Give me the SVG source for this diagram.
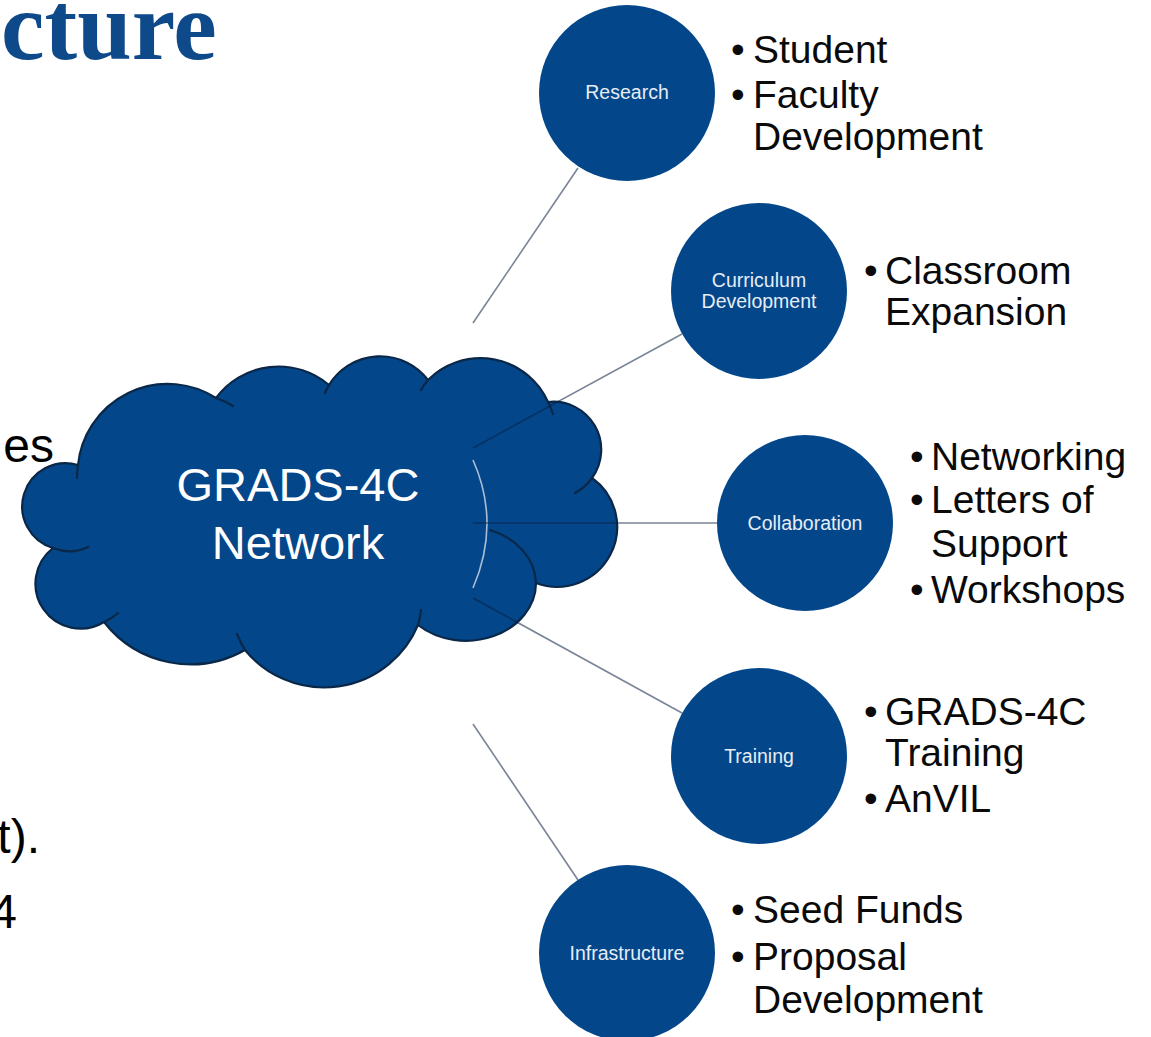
<svg xmlns="http://www.w3.org/2000/svg" width="1151" height="1037" viewBox="0 0 1151 1037">
  <defs>
    <style>
      .title { font-family: "Liberation Serif", "Times New Roman", serif; font-weight: bold; fill: #0e4a8a; }
      .side { font-family: "Liberation Sans", Arial, sans-serif; font-size: 48px; fill: #000000; }
      .node { fill: #03468a; }
      .cloud { fill: #03468a; stroke: #0b2747; stroke-width: 2.2; stroke-linejoin: round; }
      .tail { fill: none; stroke: #0b2747; stroke-width: 2.2; stroke-linecap: round; }
      .conn { stroke: #0b1f3f; stroke-opacity: 0.55; stroke-width: 1.6; fill: none; }
      .hub { stroke: #c7d4e6; stroke-opacity: 0.85; stroke-width: 1.6; fill: none; }
      .lbl { font-family: "Liberation Sans", Arial, sans-serif; font-size: 19.5px; fill: #e6edf5; text-anchor: middle; }
      .big { font-family: "Liberation Sans", Arial, sans-serif; font-size: 47px; fill: #ffffff; text-anchor: middle; }
      .bul { font-family: "Liberation Sans", Arial, sans-serif; font-size: 39px; fill: #0a0a0a; }
    </style>
  </defs>
  <rect x="0" y="0" width="1151" height="1037" fill="#ffffff"/>

  <!-- partial slide text -->
  <text class="title" x="1" y="59" font-size="98">cture</text>
  <text class="side" x="54" y="462" text-anchor="end" font-size="50">es</text>
  <text class="side" x="40" y="853" text-anchor="end">t).</text>
  <text class="side" x="17" y="928" text-anchor="end">4</text>

  <!-- central cloud -->
  <g id="cloud-grads4c">
    <path class="cloud" d="M78 465 A90 90 0 0 1 216 398 A78 78 0 0 1 329 385 A60 60 0 0 1 428 380 A74 74 0 0 1 548 402 A48 48 0 0 1 592 478 A60 60 0 0 1 536 583 A70 58 0 0 1 418 625 A102 102 0 0 1 245 650 A110 110 0 0 1 104 622 A45 45 0 0 1 53 548 A43 43 0 0 1 78 465 Z"/>
    <path class="tail" d="M77 478 A90 90 0 0 1 78 465"/>
    <path class="tail" d="M216 398 A90 90 0 0 1 233 406"/>
    <path class="tail" d="M325 393 A60 60 0 0 1 329 385"/>
    <path class="tail" d="M421 390 A74 74 0 0 1 428 380"/>
    <path class="tail" d="M548 402 A74 74 0 0 1 553 414"/>
    <path class="tail" d="M592 478 A48 48 0 0 1 575 493"/>
    <path class="tail" d="M490 530 A70 58 0 0 1 536 583"/>
    <path class="tail" d="M421 610 A102 102 0 0 1 418 625"/>
    <path class="tail" d="M245 650 A104 104 0 0 1 237 634"/>
    <path class="tail" d="M118 613 A47 47 0 0 1 104 622"/>
    <path class="tail" d="M88 547 A44 44 0 0 1 53 548"/>
    <text class="big" x="298" y="501">GRADS-4C</text>
    <text class="big" x="298" y="559">Network</text>
  </g>

  <!-- connectors -->
  <g id="connectors">
    <path class="hub" d="M473 460 Q501 523 473 588"/>
    <line class="conn" x1="473" y1="323" x2="578" y2="168"/>
    <line class="conn" x1="473" y1="448" x2="682" y2="334"/>
    <line class="conn" x1="473" y1="523" x2="717" y2="523"/>
    <line class="conn" x1="473" y1="598" x2="682" y2="713"/>
    <line class="conn" x1="473" y1="724" x2="578" y2="880"/>
  </g>

  <g id="node-research">
    <circle class="node" cx="627" cy="93" r="88"/>
    <text class="lbl" x="627" y="99" font-size="17">Research</text>
    <text class="bul" x="731" y="63">•</text>
    <text class="bul" x="753" y="63">Student</text>
    <text class="bul" x="731" y="108">•</text>
    <text class="bul" x="753" y="108">Faculty</text>
    <text class="bul" x="753" y="150">Development</text>
  </g>

  <g id="node-curriculum">
    <circle class="node" cx="759" cy="291" r="88"/>
    <text class="lbl" x="759" y="287">Curriculum</text>
    <text class="lbl" x="759" y="308">Development</text>
    <text class="bul" x="864" y="284">•</text>
    <text class="bul" x="885" y="284">Classroom</text>
    <text class="bul" x="885" y="325">Expansion</text>
  </g>

  <g id="node-collaboration">
    <circle class="node" cx="805" cy="523" r="88"/>
    <text class="lbl" x="805" y="530">Collaboration</text>
    <text class="bul" x="910" y="470">•</text>
    <text class="bul" x="931" y="470">Networking</text>
    <text class="bul" x="910" y="513">•</text>
    <text class="bul" x="931" y="513">Letters of</text>
    <text class="bul" x="931" y="557">Support</text>
    <text class="bul" x="910" y="603">•</text>
    <text class="bul" x="931" y="603">Workshops</text>
  </g>

  <g id="node-training">
    <circle class="node" cx="759" cy="756" r="88"/>
    <text class="lbl" x="759" y="763">Training</text>
    <text class="bul" x="864" y="725">•</text>
    <text class="bul" x="885" y="725">GRADS-4C</text>
    <text class="bul" x="885" y="766">Training</text>
    <text class="bul" x="864" y="812">•</text>
    <text class="bul" x="885" y="812">AnVIL</text>
  </g>

  <g id="node-infrastructure">
    <circle class="node" cx="627" cy="953" r="88"/>
    <text class="lbl" x="627" y="960">Infrastructure</text>
    <text class="bul" x="731" y="923">•</text>
    <text class="bul" x="753" y="923">Seed Funds</text>
    <text class="bul" x="731" y="970">•</text>
    <text class="bul" x="753" y="970">Proposal</text>
    <text class="bul" x="753" y="1013">Development</text>
  </g>
</svg>
